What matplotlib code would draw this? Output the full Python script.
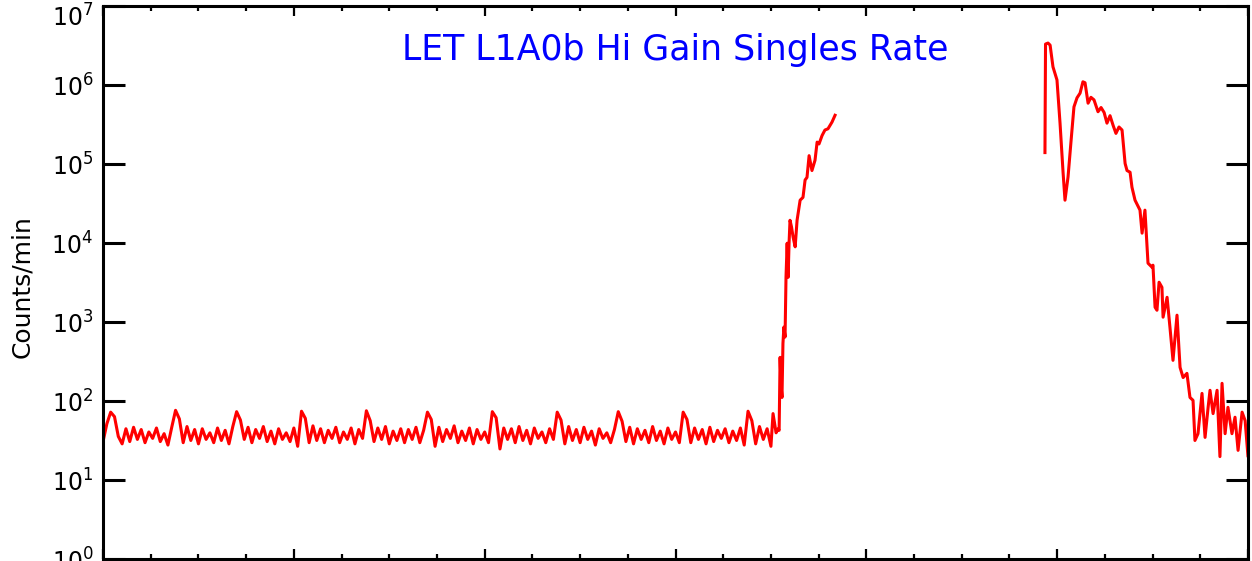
"LET L1A0b Hi Gain Singles Rate"

import matplotlib
matplotlib.use("Agg")
import matplotlib.pyplot as plt
import matplotlib.transforms as mtransforms
from matplotlib.ticker import LogLocator, MultipleLocator, NullLocator
import numpy as np

###################
# quiet period, one value every 0.02 (x in arbitrary time units, 0..6)
quiet_start = 0.0
quiet_step = 0.02
quiet = [31, 52, 73, 64, 36, 29, 45, 31, 47, 33, 44, 30, 41, 34, 46, 31, 39, 28, 47,
         77, 60, 30, 48, 32, 44, 29, 45, 33, 40, 30, 46, 32, 43, 29, 48,
         74, 58, 33, 47, 30, 44, 34, 48, 31, 42, 29, 45, 33, 40, 31, 46, 27,
         75, 61, 30, 49, 32, 45, 30, 43, 34, 47, 30, 41, 33, 46, 29, 44, 34,
         76, 57, 31, 46, 33, 48, 29, 42, 32, 45, 30, 44, 33, 47, 30, 43,
         73, 59, 27, 47, 31, 44, 34, 49, 30, 42, 32, 46, 29, 44, 33, 41, 30,
         74, 62, 25, 46, 33, 45, 30, 48, 32, 43, 29, 46, 34, 41, 30, 45, 33,
         73, 58, 29, 48, 32, 44, 30, 47, 33, 42, 28, 45, 34, 40, 30, 44,
         74, 56, 31, 47, 29, 45, 33, 43, 30, 48, 32, 42, 29, 46, 33, 41, 30,
         73, 59, 30, 46, 33, 44, 29, 47, 31, 43, 34, 45, 30, 42, 32, 46, 28,
         75, 57, 29, 48, 33, 45, 27]

# onset of the first event
rise_t = [3.511, 3.527, 3.538, 3.543, 3.548, 3.553, 3.558, 3.563, 3.568, 3.574,
          3.579, 3.585, 3.590, 3.595, 3.600, 3.608, 3.616, 3.627, 3.637, 3.653,
          3.668, 3.679, 3.689, 3.700, 3.715, 3.731, 3.742, 3.752, 3.768, 3.783,
          3.799, 3.820, 3.836]
rise = [70, 40, 45, 43, 360, 160, 112, 540, 870, 650,
        3700, 10000, 3700, 10000, 19500, 16000, 12000, 9000, 19500, 35000,
        38000, 63000, 68000, 128000, 83000, 112000, 190000, 180000, 230000, 270000,
        280000, 340000, 415000]

# second data stretch after the gap
event_t = [4.936, 4.939, 4.952, 4.963, 4.978, 4.999, 5.015, 5.031, 5.041, 5.057,
           5.073, 5.088, 5.104, 5.120, 5.135, 5.146, 5.162, 5.177, 5.193, 5.214,
           5.230, 5.246, 5.261, 5.277, 5.293, 5.308, 5.324, 5.340, 5.356, 5.366,
           5.382, 5.392, 5.408, 5.434, 5.445, 5.460, 5.476, 5.497, 5.502, 5.513,
           5.523, 5.534, 5.549, 5.555, 5.576, 5.591, 5.607, 5.628, 5.644, 5.660,
           5.680, 5.686, 5.696, 5.712, 5.722, 5.738, 5.759, 5.775, 5.791, 5.801,
           5.817, 5.838, 5.853, 5.864, 5.880, 5.895, 5.916, 5.932, 5.948, 5.969,
           5.985, 6.000, 6.011]
event = [140000, 3.3e6, 3.4e6, 3.2e6, 1.7e6, 1.16e6, 330000, 78000, 35000, 69000,
         200000, 530000, 690000, 790000, 1.1e6, 1.07e6, 590000, 700000, 650000, 460000,
         520000, 450000, 330000, 410000, 310000, 245000, 295000, 270000, 102000, 83000,
         79000, 51000, 35000, 26200, 13400, 26200, 5590, 4970, 5270, 1550,
         1420, 3210, 2770, 1160, 2070, 865, 330, 1230, 269, 200,
         226, 174, 112, 103, 32, 39, 126, 35, 84, 138,
         70, 138, 20, 169, 39, 84, 39, 63, 24, 73,
         57, 20, 43]

title = "LET L1A0b Hi Gain Singles Rate"
ylabel = "Counts/min"

###################
quiet_t = quiet_start + quiet_step * np.arange(len(quiet))

fig = plt.figure(figsize=(12.52, 5.61), dpi=100)
ax = fig.add_axes([0.0823, 0.0027, 0.9145, 0.9866])

ax.plot(np.concatenate([quiet_t, rise_t]), np.concatenate([quiet, rise]),
        color="red", lw=2.2)
ax.plot(event_t, event, color="red", lw=2.2)

ax.set_yscale("log")
ax.set_ylim(1, 1e7)
ax.set_xlim(0, 6)

ax.xaxis.set_major_locator(MultipleLocator(1))
ax.xaxis.set_minor_locator(MultipleLocator(0.25))
ax.yaxis.set_major_locator(LogLocator(base=10, numticks=10))
ax.yaxis.set_minor_locator(NullLocator())

ax.tick_params(axis="y", which="major", direction="in", length=16, width=2.2,
               right=True, labelsize=17, pad=7)
ax.tick_params(axis="x", which="major", direction="in", length=7, width=1.6,
               top=True, labelbottom=False)
ax.tick_params(axis="x", which="minor", direction="in", length=3.6, width=1.6,
               top=True)
for s in ax.spines.values():
    s.set_linewidth(2.2)

ax.text(0.5, 0.9023, title, color="blue", fontsize=25, ha="center",
        va="baseline", transform=ax.transAxes)
fig.text(0.0176, 0.49, ylabel, rotation=90, ha="center", va="center",
         fontsize=18)

# top label sits lower so it is not cut by the figure edge
fig.canvas.draw()
for tick in ax.yaxis.get_major_ticks():
    if np.isclose(tick.get_loc(), 1e7):
        shift = mtransforms.ScaledTranslation(0, -0.09, fig.dpi_scale_trans)
        tick.label1.set_transform(tick.label1.get_transform() + shift)

fig.savefig("out.png", dpi=100)
